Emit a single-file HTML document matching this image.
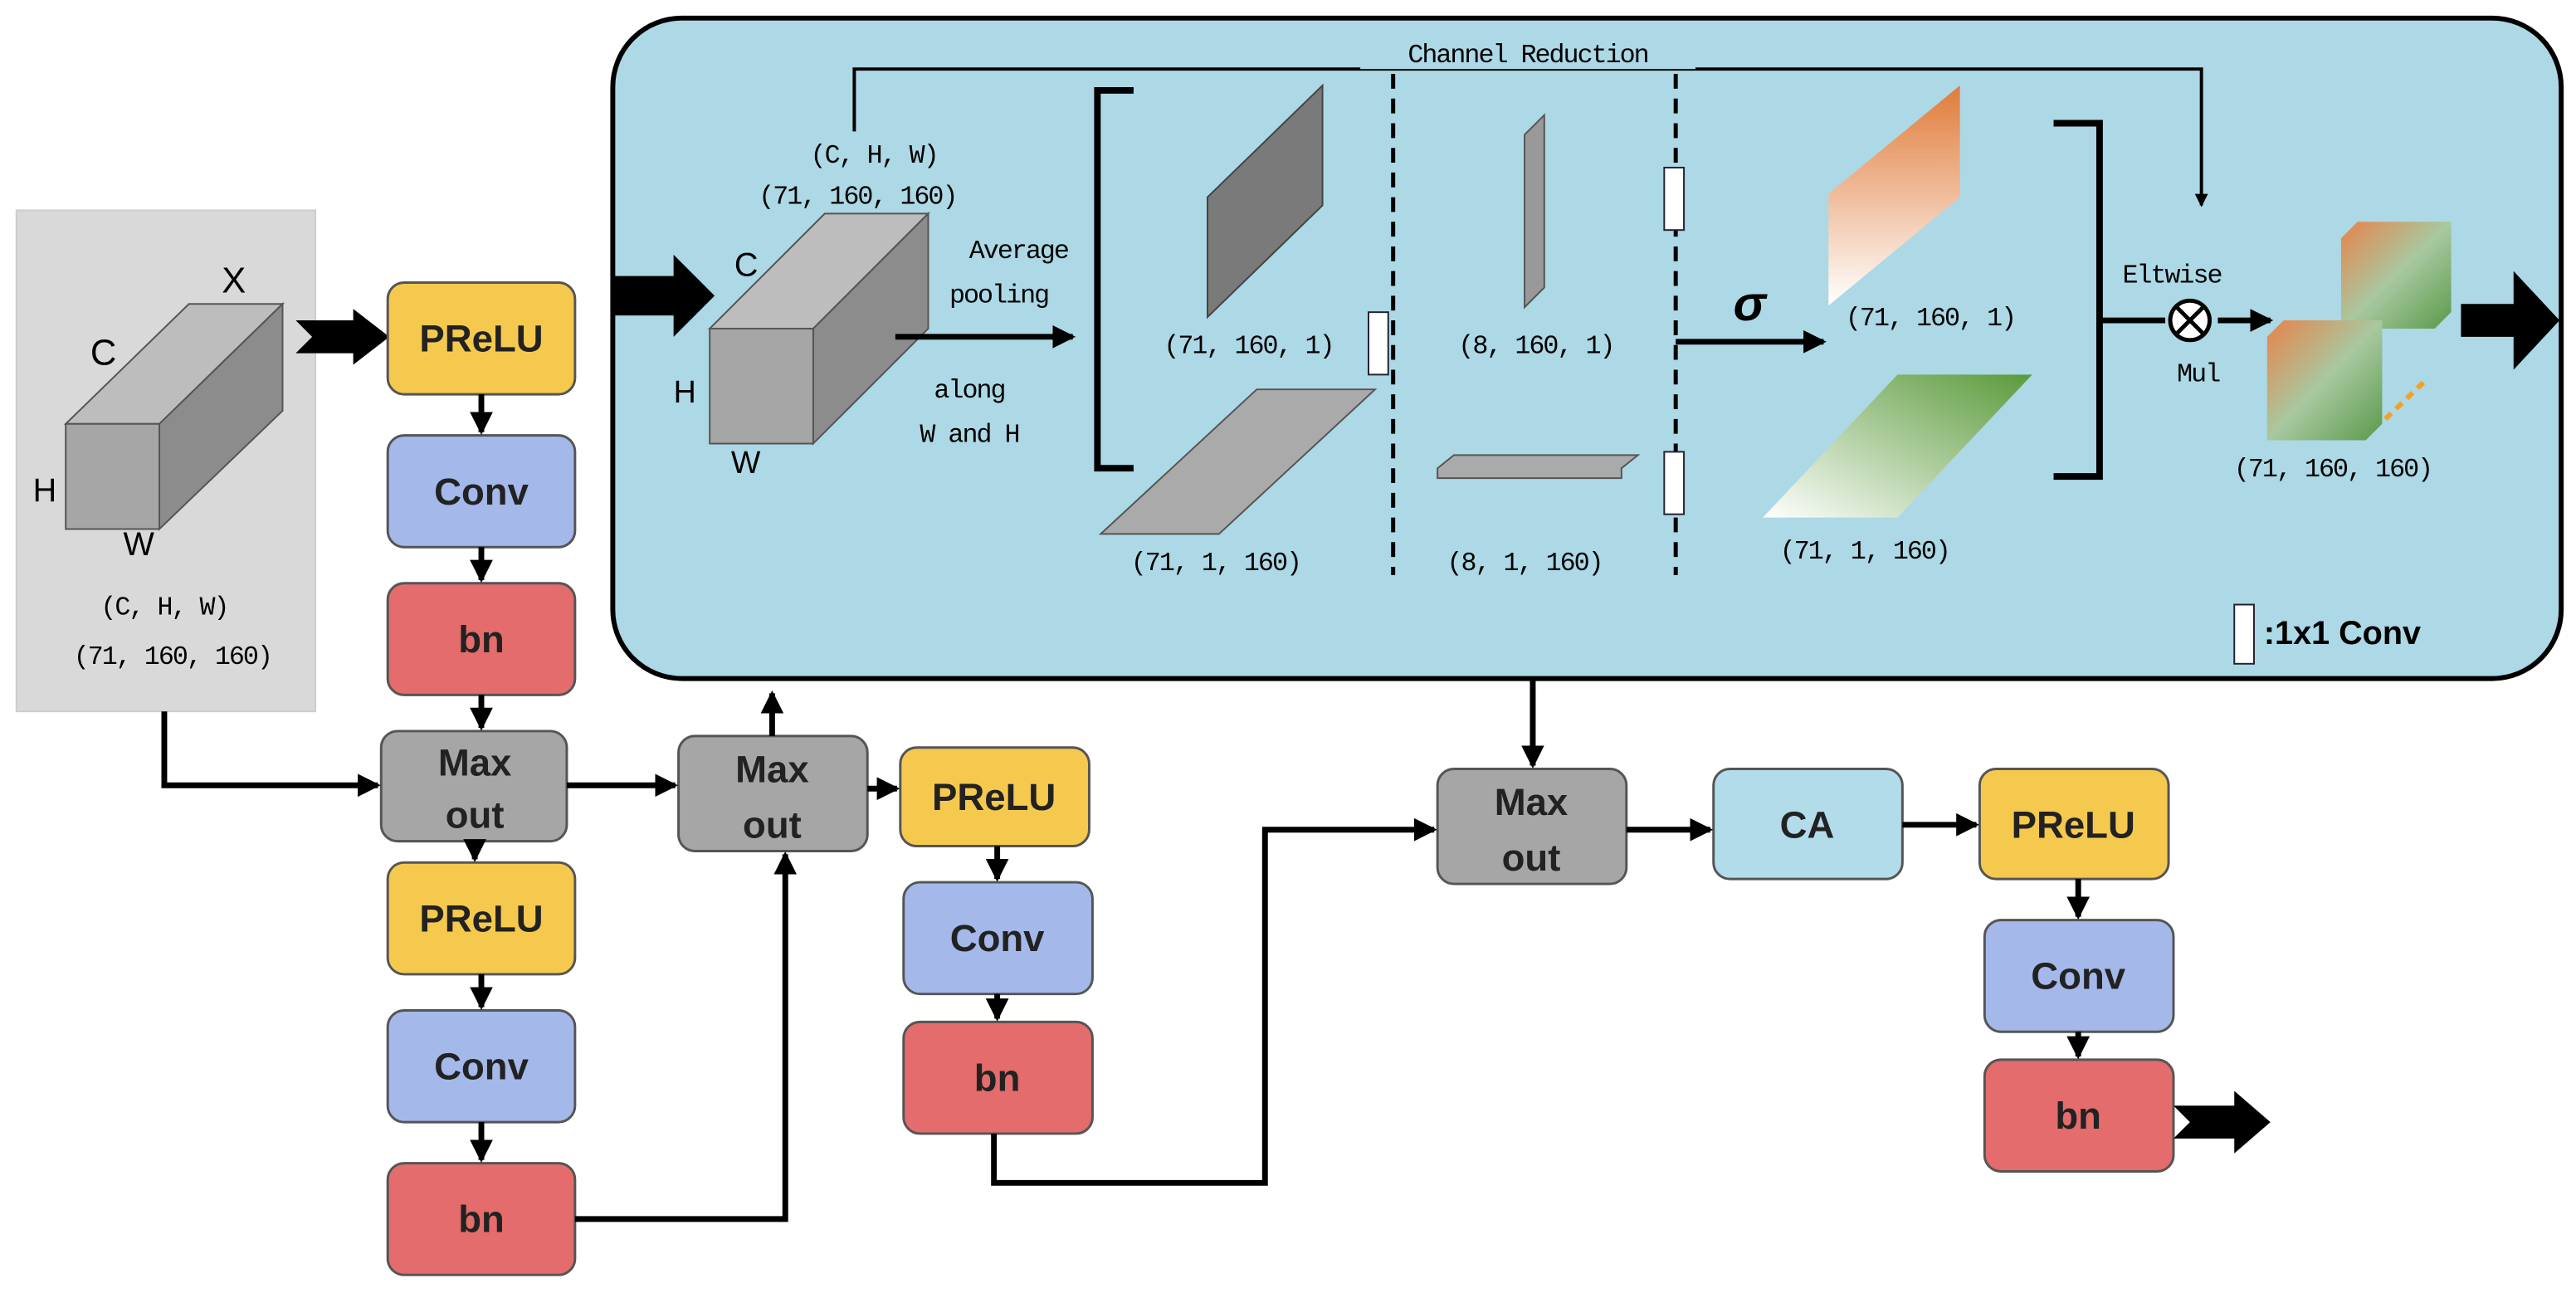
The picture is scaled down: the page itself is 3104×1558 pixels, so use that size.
<!DOCTYPE html>
<html><head><meta charset="utf-8"><style>
html,body{margin:0;padding:0;background:#fff;}
svg{display:block}
text{font-family:"Liberation Sans",sans-serif;}
.m{font-family:"Liberation Mono","DejaVu Sans Mono",monospace;font-size:16px;letter-spacing:-1px}
.b{font-size:23px;font-weight:bold;text-anchor:middle;fill:#222}
</style></head><body>
<svg width="3104" height="1558" viewBox="0 0 1568 787" xmlns="http://www.w3.org/2000/svg">
<defs>
<marker id="a" markerWidth="4" markerHeight="4" refX="3.5" refY="2" orient="auto" markerUnits="strokeWidth"><path d="M0,0L4,2L0,4z" fill="#000"/></marker>
<linearGradient id="og" x1="0" y1="0" x2="0" y2="1"><stop offset="0" stop-color="#e07b3a"/><stop offset="1" stop-color="#fff"/></linearGradient>
<linearGradient id="gg" x1="1" y1="0" x2="0" y2="1"><stop offset="0" stop-color="#5a9a3a"/><stop offset="1" stop-color="#fff"/></linearGradient>
<linearGradient id="mg" x1="0" y1="0" x2="1" y2="1"><stop offset="0" stop-color="#e8834a"/><stop offset="0.5" stop-color="#a8c8a0"/><stop offset="1" stop-color="#5a9a4a"/></linearGradient>
</defs>
<rect x="373" y="11" width="1186" height="402" rx="42" fill="#add8e6" stroke="#000" stroke-width="3"/>
<rect x="10" y="128" width="182" height="305" fill="#d9d9d9" stroke="#ccc"/>
<polygon points="40,258 97,258 172,185 115,185" fill="#bdbdbd" stroke="#555"/>
<polygon points="97,258 172,185 172,250 97,322" fill="#8c8c8c" stroke="#555"/>
<rect x="40" y="258" width="57" height="64" fill="#a6a6a6" stroke="#555"/>
<text x="55" y="222" font-size="22">C</text><text x="135" y="178" font-size="22">X</text>
<text x="20" y="305" font-size="20">H</text><text x="75" y="338" font-size="20">W</text>
<text x="100" y="374" class="m" text-anchor="middle">(C, H, W)</text>
<text x="105" y="404" class="m" text-anchor="middle" font-size="18">(71, 160, 160)</text>
<polygon points="180,195 215,195 215,188 237,205 215,222 215,215 180,215 190,205" fill="#000"/>
<g stroke="#555" stroke-width="1.5">
<rect x="236" y="172" width="114" height="68" rx="10" fill="#f5c94e"/>
<rect x="236" y="265" width="114" height="68" rx="10" fill="#a4b8ea"/>
<rect x="236" y="355" width="114" height="68" rx="10" fill="#e46c6c"/>
<rect x="232" y="445" width="113" height="67" rx="10" fill="#a6a6a6"/>
<rect x="236" y="525" width="114" height="68" rx="10" fill="#f5c94e"/>
<rect x="236" y="615" width="114" height="68" rx="10" fill="#a4b8ea"/>
<rect x="236" y="708" width="114" height="68" rx="10" fill="#e46c6c"/>
<rect x="413" y="448" width="115" height="70" rx="10" fill="#a6a6a6"/>
<rect x="548" y="455" width="115" height="60" rx="10" fill="#f5c94e"/>
<rect x="550" y="537" width="115" height="68" rx="10" fill="#a4b8ea"/>
<rect x="550" y="622" width="115" height="68" rx="10" fill="#e46c6c"/>
<rect x="875" y="468" width="115" height="70" rx="10" fill="#a6a6a6"/>
<rect x="1043" y="468" width="115" height="67" rx="10" fill="#b2dcea"/>
<rect x="1205" y="468" width="115" height="67" rx="10" fill="#f5c94e"/>
<rect x="1208" y="560" width="115" height="68" rx="10" fill="#a4b8ea"/>
<rect x="1208" y="645" width="115" height="68" rx="10" fill="#e46c6c"/>
</g>
<text class="b" x="293" y="214">PReLU</text><text class="b" x="293" y="307">Conv</text><text class="b" x="293" y="397">bn</text>
<text class="b" x="289" y="472">Max</text><text class="b" x="289" y="504">out</text>
<text class="b" x="293" y="567">PReLU</text><text class="b" x="293" y="657">Conv</text><text class="b" x="293" y="750">bn</text>
<text class="b" x="470" y="476">Max</text><text class="b" x="470" y="510">out</text>
<text class="b" x="605" y="493">PReLU</text><text class="b" x="607" y="579">Conv</text><text class="b" x="607" y="664">bn</text>
<text class="b" x="932" y="496">Max</text><text class="b" x="932" y="530">out</text>
<text class="b" x="1100" y="510">CA</text><text class="b" x="1262" y="510">PReLU</text>
<text class="b" x="1265" y="602">Conv</text><text class="b" x="1265" y="687">bn</text>
<g stroke="#000" stroke-width="3.5" fill="none" marker-end="url(#a)">
<path d="M293,240V263"/><path d="M293,333V353"/><path d="M293,423V443"/><path d="M289,512V523"/>
<path d="M293,593V613"/><path d="M293,683V706"/>
<path d="M607,515V535"/><path d="M607,605V620"/>
<path d="M1265,535V558"/><path d="M1265,628V643"/>
<path d="M100,433V478H230"/>
<path d="M345,478H411"/>
<path d="M470,448V422"/>
<path d="M350,742H478V520"/>
<path d="M528,480H546"/>
<path d="M605,690V720H770V505H873"/>
<path d="M933,413V466"/>
<path d="M990,505H1041"/>
<path d="M1158,502H1203"/>
</g>
<polygon points="1323,673 1360,673 1360,664 1382,683 1360,702 1360,693 1323,693 1333,683" fill="#000"/>
<polygon points="373,168 410,168 410,155 435,180 410,205 410,192 373,192" fill="#000"/>
<polygon points="432,200 502,130 565,130 495,200" fill="#bdbdbd" stroke="#555"/>
<polygon points="495,200 565,130 565,200 495,270" fill="#8c8c8c" stroke="#555"/>
<rect x="432" y="200" width="63" height="70" fill="#a6a6a6" stroke="#555"/>
<text x="447" y="168" font-size="20">C</text><text x="410" y="245" font-size="19">H</text><text x="445" y="288" font-size="19">W</text>
<text x="532" y="99" class="m" text-anchor="middle">(C, H, W)</text>
<text x="522" y="124" class="m" text-anchor="middle">(71, 160, 160)</text>
<text x="620" y="157" class="m" text-anchor="middle">Average</text><text x="608" y="184" class="m" text-anchor="middle">pooling</text>
<text x="590" y="242" class="m" text-anchor="middle">along</text><text x="590" y="269" class="m" text-anchor="middle">W and H</text>
<path d="M545,205H653" stroke="#000" stroke-width="3.5" marker-end="url(#a)"/>
<path d="M520,80V42H1340V125" stroke="#000" stroke-width="2" fill="none" marker-end="url(#a)"/>
<rect x="828" y="20" width="204" height="22" fill="#add8e6"/>
<text x="930" y="38" class="m" text-anchor="middle">Channel Reduction</text>
<path d="M690,55H668V285H690" stroke="#000" stroke-width="4" fill="none"/>
<path d="M1250,75H1278V290H1250" stroke="#000" stroke-width="4" fill="none"/>
<path d="M848,45V350M1020,45V350" stroke="#000" stroke-width="2.5" stroke-dasharray="9,6"/>
<polygon points="735,120 805,52 805,125 735,193" fill="#7a7a7a" stroke="#444"/>
<polygon points="670,325 765,237 837,237 742,325" fill="#aaa" stroke="#555"/>
<polygon points="928,82 940,70 940,175 928,187" fill="#999" stroke="#555"/>
<polygon points="875,285 885,277 997,277 987,285 987,291 875,291" fill="#aaa" stroke="#555"/>
<polygon points="1113,118 1193,52 1193,120 1113,186" fill="url(#og)"/>
<polygon points="1073,315 1155,228 1237,228 1155,315" fill="url(#gg)"/>
<g fill="#fff" stroke="#223"><rect x="833" y="190" width="12" height="38"/><rect x="1013" y="102" width="12" height="38"/><rect x="1013" y="275" width="12" height="38"/></g>
<text x="760" y="215" class="m" text-anchor="middle">(71, 160, 1)</text>
<text x="935" y="215" class="m" text-anchor="middle">(8, 160, 1)</text>
<text x="740" y="347" class="m" text-anchor="middle">(71, 1, 160)</text>
<text x="928" y="347" class="m" text-anchor="middle">(8, 1, 160)</text>
<text x="1175" y="198" class="m" text-anchor="middle">(71, 160, 1)</text>
<text x="1135" y="340" class="m" text-anchor="middle">(71, 1, 160)</text>
<path d="M1020,208H1110" stroke="#000" stroke-width="3.5" marker-end="url(#a)"/>
<text x="1055" y="195" font-size="30" font-weight="bold" font-style="italic" font-family="Liberation Serif,serif">σ</text>
<path d="M1278,195H1318M1350,195H1382" stroke="#000" stroke-width="3.5" marker-end="url(#a)"/>
<circle cx="1333" cy="195" r="12" fill="#fff" stroke="#000" stroke-width="2.5"/>
<path d="M1325,187L1341,203M1341,187L1325,203" stroke="#000" stroke-width="2.5"/>
<text x="1322" y="172" class="m" text-anchor="middle">Eltwise</text>
<text x="1338" y="232" class="m" text-anchor="middle">Mul</text>
<polygon points="1425,145 1435,135 1492,135 1492,190 1482,200 1425,200" fill="url(#mg)"/>
<polygon points="1380,205 1390,195 1450,195 1450,258 1440,268 1380,268" fill="url(#mg)"/>
<path d="M1452,255L1478,230" stroke="#f5a020" stroke-width="3" stroke-dasharray="5,4"/>
<polygon points="1498,185 1530,185 1530,165 1558,195 1530,225 1530,205 1498,205" fill="#000"/>
<text x="1420" y="290" class="m" text-anchor="middle">(71, 160, 160)</text>
<rect x="1360" y="368" width="12" height="36" fill="#fff" stroke="#223"/>
<text x="1378" y="392" font-size="20" font-weight="bold">:1x1 Conv</text>
</svg>
</body></html>
